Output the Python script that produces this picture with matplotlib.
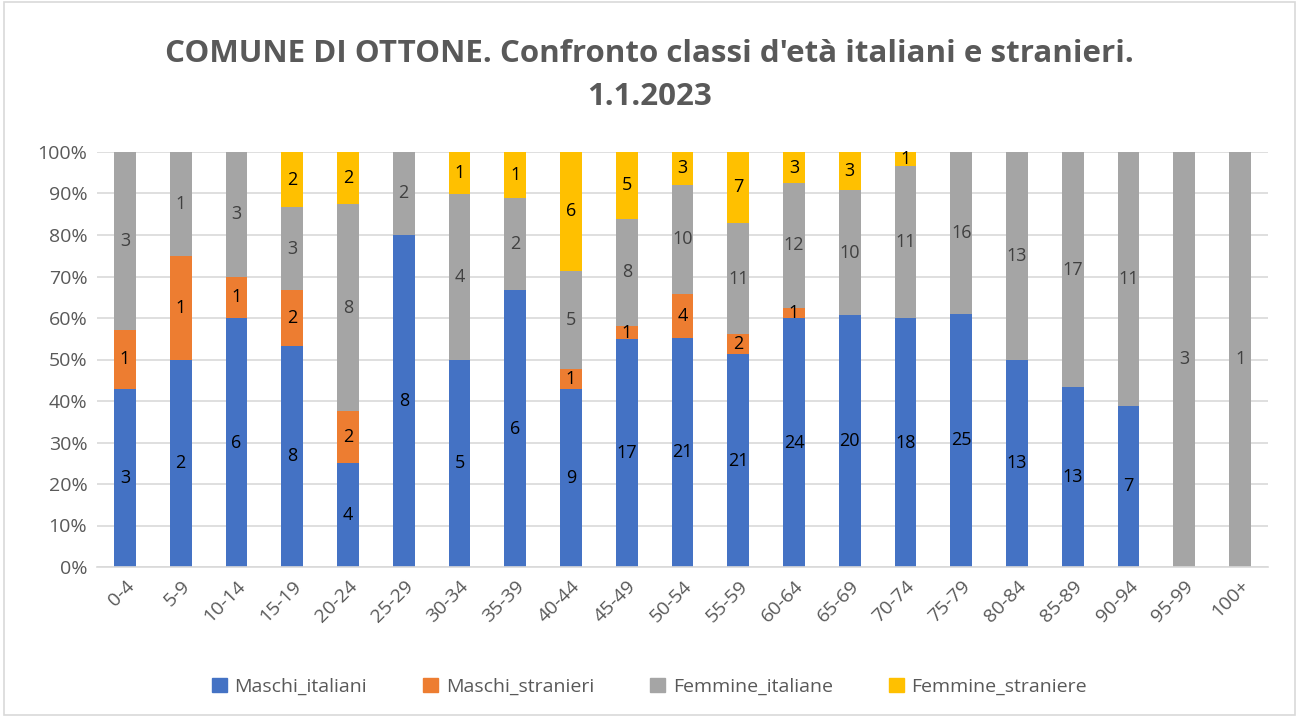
import matplotlib.pyplot as plt
import matplotlib.patches as mpatches
import numpy as np

classi = ['0-4', '5-9', '10-14', '15-19', '20-24', '25-29', '30-34', '35-39', '40-44',
          '45-49', '50-54', '55-59', '60-64', '65-69', '70-74', '75-79', '80-84',
          '85-89', '90-94', '95-99', '100+']
maschi_italiani = [3, 2, 6, 8, 4, 8, 5, 6, 9, 17, 21, 21, 24, 20, 18, 25, 13, 13, 7, 0, 0]
maschi_stranieri = [1, 1, 1, 2, 2, 0, 0, 0, 1, 1, 4, 2, 1, 0, 0, 0, 0, 0, 0, 0, 0]
femmine_italiane = [3, 1, 3, 3, 8, 2, 4, 2, 5, 8, 10, 11, 12, 10, 11, 16, 13, 17, 11, 3, 1]
femmine_straniere = [0, 0, 0, 2, 2, 0, 1, 1, 6, 5, 3, 7, 3, 3, 1, 0, 0, 0, 0, 0, 0]

serie = [('Maschi_italiani', maschi_italiani, '#4472C4'),
         ('Maschi_stranieri', maschi_stranieri, '#ED7D31'),
         ('Femmine_italiane', femmine_italiane, '#A5A5A5'),
         ('Femmine_straniere', femmine_straniere, '#FFC000')]

plt.rcParams['font.family'] = ['Open Sans', 'DejaVu Sans']
txt_clr = '#595959'

fig = plt.figure(figsize=(12.99, 7.17), dpi=100)
ax = fig.add_axes([97 / 1299, 1 - 567 / 717, 1171 / 1299, 415 / 717])

x = np.arange(len(classi))
tot = np.array([sum(v) for v in zip(*[s[1] for s in serie])], dtype=float)
bottom = np.zeros(len(classi))
handles = []
for nome, vals, clr in serie:
    vals = np.array(vals, dtype=float)
    pct = vals / tot * 100
    ax.bar(x, pct, 0.39, bottom=bottom, color=clr, zorder=2)
    for i in range(len(classi)):
        if vals[i] > 0:
            ax.text(x[i], bottom[i] + pct[i] / 2, '%d' % vals[i], ha='center', va='center',
                    fontsize=13, color='black' if clr != '#A5A5A5' else '#404040', zorder=3)
    bottom += pct
    handles.append(mpatches.Patch(color=clr, label=nome))

ax.set_ylim(0, 100)
ax.set_xlim(-0.5, len(classi) - 0.5)
ax.set_yticks(range(0, 101, 10))
ax.set_yticklabels(['%d%%' % v for v in range(0, 101, 10)], fontsize=14, color=txt_clr)
ax.set_xticks(x)
ax.set_xticklabels(classi, rotation=45, ha='right', rotation_mode='anchor', fontsize=14, color=txt_clr)
ax.tick_params(axis='both', length=0, pad=7)
ax.grid(axis='y', color='#D9D9D9', lw=1.2, zorder=0)
for s in ['top', 'right', 'left']:
    ax.spines[s].set_visible(False)
ax.spines['bottom'].set_color('#D9D9D9')
ax.spines['bottom'].set_linewidth(1.2)

fig.suptitle("COMUNE DI OTTONE. Confronto classi d'età italiani e stranieri.\n1.1.2023",
             y=0.945, fontsize=22.5, fontweight='bold', color=txt_clr, linespacing=1.55)

fig.legend(handles=handles, loc='center', bbox_to_anchor=(0.5, 0.042), ncol=4, frameon=False,
           fontsize=14, labelcolor=txt_clr, handlelength=0.75, handleheight=0.75,
           handletextpad=0.4, columnspacing=2.9)

fig.patches.append(mpatches.Rectangle((0.003, 0.003), 0.994, 0.994, transform=fig.transFigure,
                                      fill=False, ec='#D9D9D9', lw=1.2))
fig.savefig('out.png', dpi=100)
